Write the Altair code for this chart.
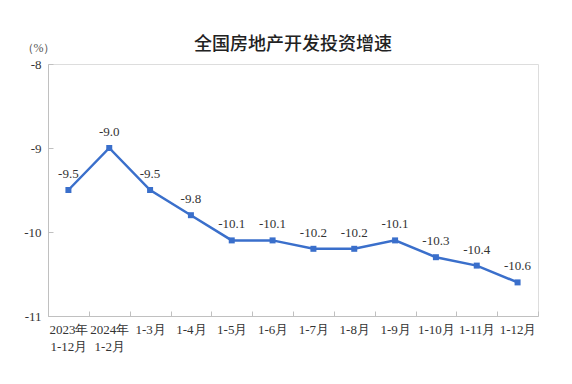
import altair as alt
import pandas as pd

periods = ["2023年\n1-12月", "2024年\n1-2月", "1-3月", "1-4月", "1-5月", "1-6月",
           "1-7月", "1-8月", "1-9月", "1-10月", "1-11月", "1-12月"]
growth = [-9.5, -9.0, -9.5, -9.8, -10.1, -10.1, -10.2, -10.2, -10.1, -10.3, -10.4, -10.6]
y_ticks = [-8, -9, -10, -11]

df = pd.DataFrame({"period": periods, "growth": growth})
df["lab"] = [f"{v:.1f}" for v in growth]

serif = "Liberation Serif"
blue = "#3a6fcb"

x_enc = alt.X(
    "period:N", sort=periods, bandPosition=0.5,
    scale=alt.Scale(type="band", paddingInner=0, paddingOuter=0),
    axis=alt.Axis(
        title=None, labelAngle=0, tickBand="extent",
        tickSize=alt.ExprRef(expr="-5"), tickColor="#c0c0c0",
        domainColor="#c0c0c0", labelPadding=12,
        labelExpr="split(datum.label, '\\n')",
        labelFont=serif, labelFontSize=13, labelColor="#333333",
        labelLineHeight=17, labelBaseline="top",
    ),
)
y_enc = alt.Y(
    "growth:Q",
    scale=alt.Scale(domain=[-11, -8], nice=False, zero=False),
    axis=alt.Axis(
        values=y_ticks, grid=False, title="（%）", titleAngle=0,
        titleX=-10, titleY=-17, titleAlign="center", titleBaseline="middle",
        titleFont=serif, titleFontSize=12, titleFontWeight="normal", titleColor="#555555",
        tickSize=alt.ExprRef(expr="-5"), tickColor="#c0c0c0",
        domainColor="#c0c0c0", labelPadding=12,
        labelExpr="replace(datum.label, '\u2212', '-')",
        labelFont=serif, labelFontSize=13, labelColor="#333333",
    ),
)

base = alt.Chart(df)
line = base.mark_line(color=blue, strokeWidth=2.5).encode(x=x_enc, y=y_enc)
pts = base.mark_square(color=blue, size=36, opacity=1).encode(x=x_enc, y=y_enc)
txt = base.mark_text(
    baseline="bottom", dy=-9, font=serif, fontSize=13, color="#333333"
).encode(x=x_enc, y=y_enc, text="lab:N")

chart = alt.layer(line, pts, txt).properties(
    width=490, height=252,
    title=alt.TitleParams(
        "全国房地产开发投资增速", font="Noto Sans CJK SC", fontSize=18,
        fontWeight=500, color="#222222", anchor="middle", offset=12,
        dy=25,
    ),
    autosize=alt.AutoSizeParams(type="none"),
    padding={"left": 40, "top": 56, "right": 20, "bottom": 50},
).configure_view(stroke="#c8c8c8", strokeWidth=1).configure(background="white")

chart.save("out.html", embed_options={"renderer": "svg", "actions": False})
